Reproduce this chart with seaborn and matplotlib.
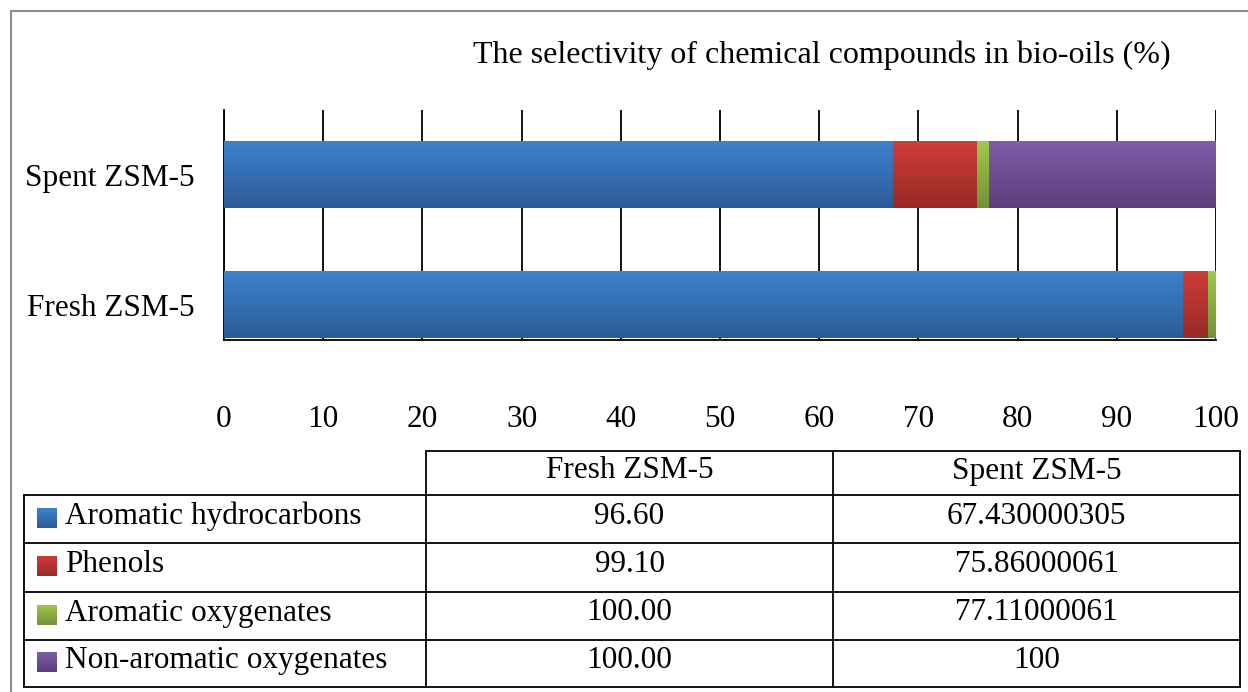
import numpy as np
import pandas as pd
import matplotlib
matplotlib.use("Agg")
import matplotlib.pyplot as plt
from matplotlib.colors import to_rgb
from matplotlib.lines import Line2D
import seaborn as sns

# cumulative selectivity (%) as shown in the data table
catalysts = ["Spent ZSM-5", "Fresh ZSM-5"]
series = ["Aromatic hydrocarbons", "Phenols",
          "Aromatic oxygenates", "Non-aromatic oxygenates"]
fresh = [96.60, 99.10, 100.00, 100.00]
spent = [67.430000305, 75.86000061, 77.11000061, 100]
fresh_labels = ["96.60", "99.10", "100.00", "100.00"]
spent_labels = ["67.430000305", "75.86000061", "77.11000061", "100"]
table_columns = ["Fresh ZSM-5", "Spent ZSM-5"]
x_ticks = [0, 10, 20, 30, 40, 50, 60, 70, 80, 90, 100]

# (top colour, bottom colour) of the vertical gradient for each series
shades = {
    "Aromatic hydrocarbons": ("#3E81CE", "#2C5C97"),
    "Phenols": ("#CE3D39", "#972A27"),
    "Aromatic oxygenates": ("#9EC84B", "#72923A"),
    "Non-aromatic oxygenates": ("#7F5CA9", "#5C3E7D"),
}

sns.set_theme(style="white")
plt.rcParams["font.family"] = ["Liberation Serif", "DejaVu Serif"]
plt.rcParams["text.color"] = "black"
FS = 22.5

W, H = 1248, 692
fig = plt.figure(figsize=(W / 100, H / 100), dpi=100)


def gradient_fill(ax, x0, x1, y0, y1, top, bottom, zorder=3):
    # y0 is drawn at the top of the box, y1 at the bottom
    c_top, c_bot = np.array(to_rgb(top)), np.array(to_rgb(bottom))
    t = np.linspace(0, 1, 64)[:, None, None]
    img = c_top * (1 - t) + c_bot * t
    ax.imshow(img, extent=(x0, x1, y1, y0), origin="upper",
              aspect="auto", zorder=zorder, interpolation="bilinear")


ax = fig.add_axes([224 / W, 1 - 340 / H, 992 / W, 230 / H])

df = pd.DataFrame({"catalyst": ["Fresh ZSM-5"] * 4 + ["Spent ZSM-5"] * 4,
                   "series": series * 2,
                   "value": fresh + spent})

# overlapping bars, the longest (cumulative) drawn first
for k, name in enumerate(reversed(series)):
    sub = df[df["series"] == name]
    n_before = len(ax.patches)
    sns.barplot(data=sub, x="value", y="catalyst", order=catalysts,
                orient="h", color=shades[name][1], width=0.51,
                ax=ax, errorbar=None, zorder=2)
    for p in ax.patches[n_before:]:
        x0, y0 = p.get_x(), p.get_y()
        gradient_fill(ax, x0, x0 + p.get_width(), y0, y0 + p.get_height(),
                      *shades[name], zorder=2.5 + 0.1 * k)
        p.set_visible(False)

ax.set_xlim(0, 100)
ax.set_ylim(1.274, -0.502)
ax.set_xticks(x_ticks)
ax.set_xlabel("")
ax.set_ylabel("")
ax.grid(axis="x", color="black", linewidth=1.3)
ax.set_axisbelow(True)
for s in ["top", "right"]:
    ax.spines[s].set_visible(False)
for s in ["left", "bottom"]:
    ax.spines[s].set_color("black")
    ax.spines[s].set_linewidth(1.3)
ax.tick_params(axis="x", length=0, pad=47, labelsize=FS, colors="black")
ax.tick_params(axis="y", length=0, pad=21, labelsize=FS, colors="black")

fig.text(822 / W, 1 - 55 / H,
         "The selectivity of chemical compounds in bio-oils (%)",
         ha="center", va="center", fontsize=23)

# data table with legend keys, laid out in pixel units of its own axes
tab_ax = fig.add_axes([24 / W, 1 - 687 / H, 1216 / W, 236 / H])
tab_ax.set_axis_off()
col_x = [0, 402, 809, 1216]
row_y = [0, 44, 92, 141, 189, 236]
line_kw = dict(color="black", linewidth=1.3, clip_on=False)
tab_ax.plot([col_x[1], col_x[3]], [0, 0], **line_kw)
for y in row_y[1:]:
    tab_ax.plot([0, col_x[3]], [y, y], **line_kw)
tab_ax.plot([0, 0], [row_y[1], row_y[-1]], **line_kw)
for x in col_x[1:]:
    tab_ax.plot([x, x], [0, row_y[-1]], **line_kw)

for j, label in enumerate(table_columns):
    tab_ax.text((col_x[j + 1] + col_x[j + 2]) / 2, row_y[0] + 20, label,
                ha="center", va="center", fontsize=FS)
for i, name in enumerate(series):
    cy = (row_y[i + 1] + row_y[i + 2]) / 2 - 3
    gradient_fill(tab_ax, 13, 33, cy - 8, cy + 12, *shades[name], zorder=5)
    tab_ax.text(41, cy, name, ha="left", va="center", fontsize=FS)
    for j, vals in enumerate([fresh_labels, spent_labels]):
        tab_ax.text((col_x[j + 1] + col_x[j + 2]) / 2, cy, vals[i],
                    ha="center", va="center", fontsize=FS)
tab_ax.set_xlim(0, 1216)
tab_ax.set_ylim(236, 0)

# grey frame of the chart area
fig.add_artist(Line2D([11 / W, 11 / W], [0, 1 - 11 / H], color="#8c8c8c",
                      linewidth=1.5, transform=fig.transFigure))
fig.add_artist(Line2D([11 / W, 1], [1 - 11 / H, 1 - 11 / H], color="#8c8c8c",
                      linewidth=1.5, transform=fig.transFigure))

fig.savefig("out.png", dpi=100)
